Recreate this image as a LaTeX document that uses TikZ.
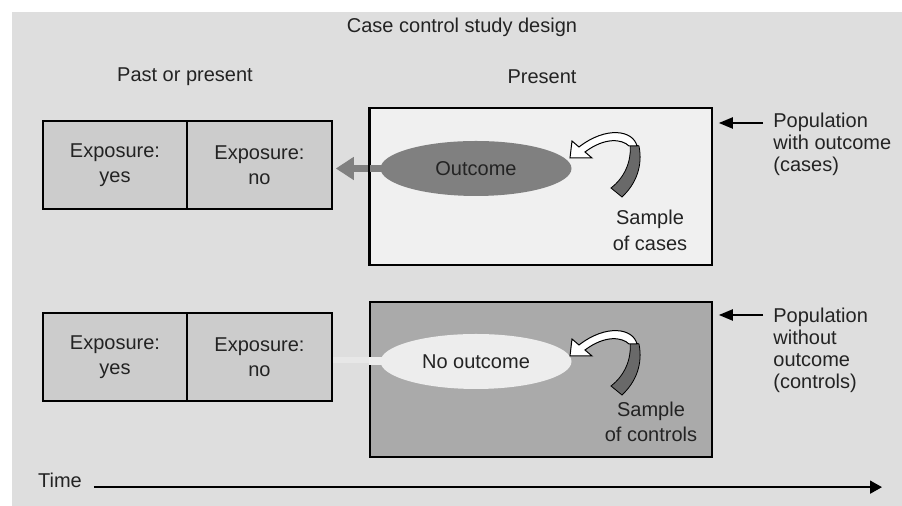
\documentclass[tikz,border=0pt]{standalone}
\usepackage{fontspec}
\setmainfont{Liberation Sans}
\usetikzlibrary{arrows.meta,shapes.geometric}
\definecolor{panel}{RGB}{222,222,222}
\definecolor{expfill}{RGB}{204,204,204}
\definecolor{popA}{RGB}{240,240,240}
\definecolor{popB}{RGB}{170,170,170}
\definecolor{outfill}{RGB}{128,128,128}
\definecolor{nooutfill}{RGB}{237,237,237}
\definecolor{faintshaft}{RGB}{231,231,231}
\definecolor{ribbon}{RGB}{105,105,105}
\definecolor{txt}{RGB}{35,35,35}
\newcommand\sampleArrow[1]{%
  \begin{scope}[shift={(0,#1)}]
    \fill[ribbon,draw=black,line width=0.4pt] (630,143) .. controls (632,162) and (624,178) .. (611,188) -- (622,197) .. controls (636,184) and (643,166) .. (639,146) -- cycle;
    \filldraw[fill=white,draw=black,line width=0.5pt,line join=miter] (637,146) .. controls (633,130) and (606,126) .. (579,147) -- (572,141) -- (570,158) -- (592,158) -- (585,152) .. controls (605,137) and (622,139) .. (629,146) -- cycle;
  \end{scope}}
\begin{document}
\begin{tikzpicture}[x=0.5pt,y=-0.5pt,
  every node/.style={text=txt},
  font=\fontsize{10}{12}\selectfont,
  expbox/.style={draw=black,line width=0.8pt,fill=expfill,minimum height=44pt,inner sep=0pt,align=center,font=\fontsize{10}{12.5}\selectfont},
  poprect/.style={draw=black,line width=0.8pt,minimum width=171pt,inner sep=0pt},
  oval/.style={ellipse,minimum width=95.5pt,minimum height=27.5pt,inner sep=0pt},
  bigarrow/.style={draw=outfill,line width=3.5pt,-{Triangle[length=9pt,width=11pt]}},
  poparrow/.style={draw=black,line width=1pt,-{Triangle[length=7pt,width=5.5pt]}},
  poplabel/.style={anchor=north west,inner sep=0pt,align=left,font=\fontsize{10}{11}\selectfont}]
\useasboundingbox (0,0) rectangle (902,506);
\fill[white] (0,0) rectangle (902,506);
\fill[panel] (12,12) rectangle (902,506);

\node (title) at (462,27) {Case control study design};
\node (past) at (185,77) {Past or present};
\node (present) at (542,77) {Present};

% top row
\node[expbox,minimum width=72pt] (exy1) at (115,165) {Exposure:\\yes};
\node[expbox,minimum width=72.5pt] (exn1) at (259.5,165) {Exposure:\\no};
\node[poprect,fill=popA,minimum height=78.5pt] (pop1) at (541,186.5) {};
\node[oval,fill=outfill] (outc) at (476,168.5) {Outcome};
\draw[bigarrow,shorten <=-6pt,shorten >=1.5pt] (outc.west) -- (outc.west -| exn1.east);
\draw[line width=0.8pt] (pop1.north west) -- (pop1.south west);
\sampleArrow{0}
\node[align=center,font=\fontsize{10}{13}\selectfont] (samp1) at (650,230) {Sample\\of cases};
\coordinate (pa1) at (763,123);
\draw[poparrow,shorten >=3pt] (pa1) -- (pa1 -| pop1.east);
\node[poplabel] (pl1) at (773,113) {Population\\with outcome\\(cases)};

% bottom row
\node[expbox,minimum width=72pt] (exy2) at (115,357) {Exposure:\\yes};
\node[expbox,minimum width=72.5pt] (exn2) at (259.5,357) {Exposure:\\no};
\node[poprect,fill=popB,minimum height=77.5pt] (pop2) at (541,379.5) {};
\draw[faintshaft,line width=3pt,shorten <=-6pt] (pop2.west |- 0,360) -- (exn2.east |- 0,360);
\node[oval,fill=nooutfill] (nooutc) at (476,361.5) {No outcome};
\draw[nooutfill,line width=4pt,shorten <=-6pt] (nooutc.west) -- (nooutc.west -| pop2.west);
\sampleArrow{198}
\node[align=center,font=\fontsize{10}{12.5}\selectfont] (samp2) at (651,421.5) {Sample\\of controls};
\coordinate (pa2) at (763,315);
\draw[poparrow,shorten >=3pt] (pa2) -- (pa2 -| pop2.east);
\node[poplabel] (pl2) at (773,308) {Population\\without\\outcome\\(controls)};

% time axis
\node (time) at (60,480) {Time};
\coordinate (tend) at (882,488);
\draw[line width=0.9pt,-{Triangle[length=6pt,width=6.5pt]}] ([xshift=2.5pt]time.base east) -- (time.base east -| tend);
\end{tikzpicture}
\end{document}
